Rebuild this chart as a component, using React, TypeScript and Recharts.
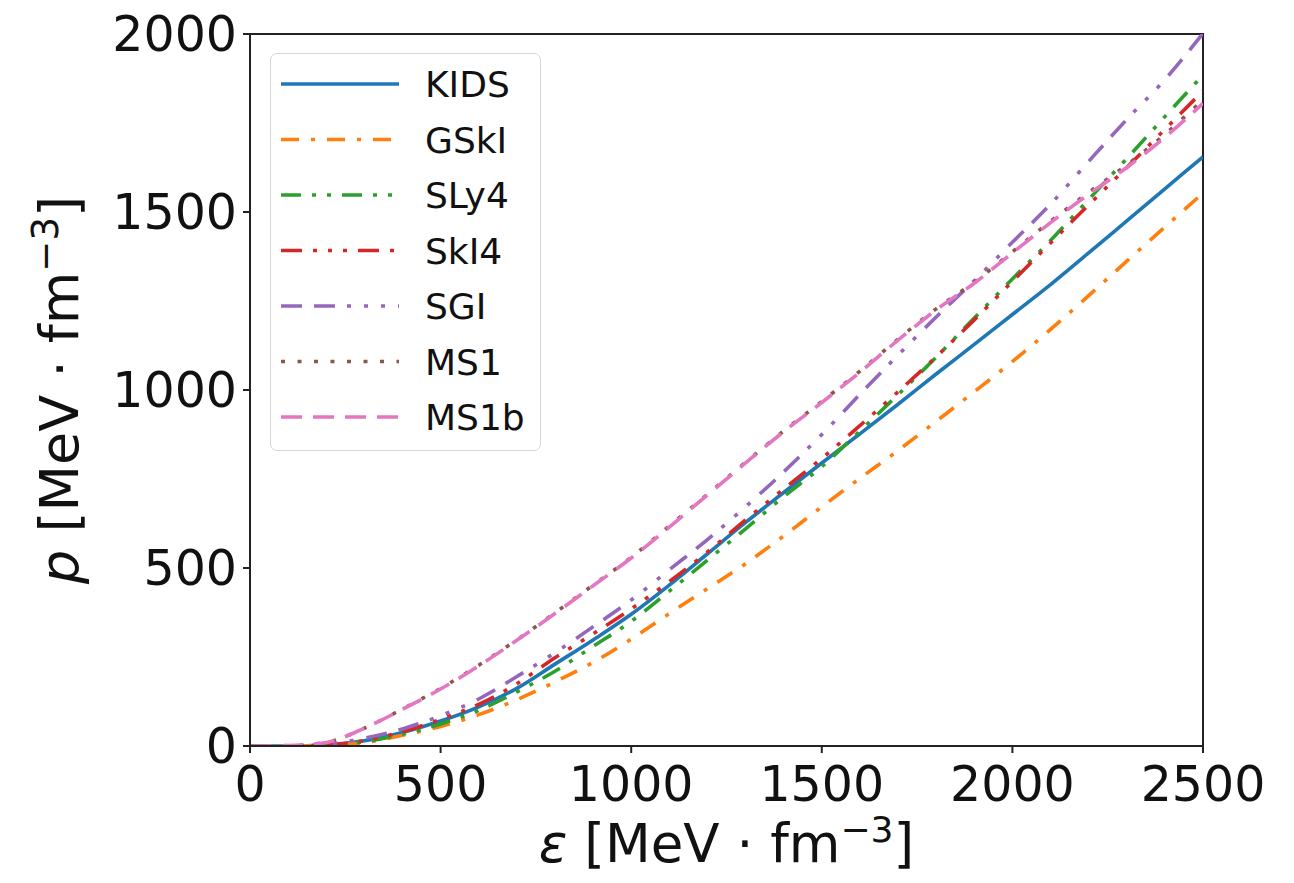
import React from 'react';
import { LineChart, Line, XAxis, YAxis, Legend, Label, ReferenceArea } from 'recharts';

const energy = [0, 100, 200, 300, 400, 500, 600, 700, 800, 900, 1000, 1100, 1200, 1300, 1400, 1500, 1600, 1700, 1800, 1900, 2000, 2100, 2200, 2300, 2400, 2500];

const kids = [0, 0, 3, 15, 38, 70, 110, 162, 230, 298, 370, 452, 540, 628, 712, 795, 877, 960, 1045, 1128, 1212, 1296, 1385, 1475, 1565, 1655];
const gski = [0, 0, 2, 10, 30, 55, 88, 130, 180, 235, 300, 372, 442, 512, 590, 672, 752, 830, 912, 995, 1080, 1170, 1265, 1362, 1458, 1553];
const sly4 = [0, 0, 2, 12, 33, 62, 100, 152, 210, 280, 350, 435, 522, 610, 700, 785, 885, 987, 1092, 1202, 1312, 1420, 1535, 1650, 1768, 1885];
const ski4 = [0, 0, 3, 15, 40, 75, 117, 175, 248, 315, 385, 462, 545, 635, 722, 808, 900, 995, 1093, 1197, 1305, 1413, 1520, 1625, 1732, 1840];
const sgi = [0, 0, 5, 22, 48, 85, 132, 195, 262, 335, 410, 495, 580, 672, 770, 875, 988, 1098, 1205, 1307, 1415, 1522, 1642, 1760, 1872, 2002];
const ms1 = [0, 1, 10, 50, 104, 162, 227, 298, 374, 452, 530, 618, 707, 797, 885, 968, 1053, 1143, 1228, 1303, 1388, 1474, 1555, 1632, 1718, 1815];
const ms1b = [0, 1, 10, 50, 103, 160, 225, 297, 372, 450, 528, 615, 705, 795, 883, 965, 1050, 1140, 1225, 1300, 1385, 1470, 1550, 1625, 1710, 1805];

const xTicks = [0, 500, 1000, 1500, 2000, 2500];
const yTicks = [0, 500, 1000, 1500, 2000];

const seriesNames = ['KIDS', 'GSkI', 'SLy4', 'SkI4', 'SGI', 'MS1', 'MS1b'];
const seriesValues = [kids, gski, sly4, ski4, sgi, ms1, ms1b];
const seriesColors = ['#1f77b4', '#ff7f0e', '#2ca02c', '#d62728', '#9467bd', '#8c564b', '#e377c2'];
const seriesDash = [
  undefined,
  '18 12 4 12',
  '20 11 4 11 4 11',
  '21 11 4 11 4 11 4 11',
  '21 12 21 12 4 13 4 13 4 13',
  '4 12.5',
  '21 11',
];

const data = energy.map((e, i) => {
  const row: Record<string, number> = { e };
  seriesNames.forEach((n, k) => {
    row[n] = seriesValues[k][i];
  });
  return row;
});

const FONT = '"DejaVu Sans", sans-serif';
const LW = 3.6;

const XLabel = (props: any) => {
  const vb = props.viewBox || {};
  const cx = vb.x + vb.width / 2;
  const y = vb.y + vb.height - 13;
  return (
    <text x={cx} y={y} textAnchor="middle" fontSize={53} fontFamily={FONT} fill="#111">
      <tspan fontStyle="italic">ε</tspan>
      <tspan> [MeV · fm</tspan>
      <tspan dy={-20} fontSize={36}>−3</tspan>
      <tspan dy={20}>]</tspan>
    </text>
  );
};

const YLabel = (props: any) => {
  const vb = props.viewBox || {};
  const cy = vb.y + vb.height / 2;
  const x = 70;
  return (
    <text
      x={x}
      y={cy}
      transform={`rotate(-90, ${x}, ${cy})`}
      textAnchor="middle"
      fontSize={54}
      fontFamily={FONT}
      fill="#111"
    >
      <tspan fontStyle="italic">p</tspan>
      <tspan> [MeV · fm</tspan>
      <tspan dy={-20} fontSize={37}>−3</tspan>
      <tspan dy={20}>]</tspan>
    </text>
  );
};

const LegendBox = () => {
  const rowH = 55.5;
  return (
    <div
      style={{
        width: 271,
        height: 398,
        border: '1.5px solid #d6d6d6',
        borderRadius: 7,
        background: 'rgba(255,255,255,0.85)',
        boxSizing: 'border-box',
      }}
    >
      <svg width={268} height={395}>
        {seriesNames.map((n, i) => {
          const cy = 30 + i * rowH;
          return (
            <g key={n}>
              <line
                x1={10}
                x2={128}
                y1={cy}
                y2={cy}
                stroke={seriesColors[i]}
                strokeWidth={LW}
                strokeDasharray={seriesDash[i]}
              />
              <text x={154} y={cy + 13} fontSize={36} fontFamily={FONT} fill="#111">
                {n}
              </text>
            </g>
          );
        })}
      </svg>
    </div>
  );
};

export default function App() {
  return (
    <div style={{ width: 1278, height: 867, background: '#fff' }}>
      <LineChart
        width={1278}
        height={867}
        data={data}
        margin={{ top: 26, right: 83, bottom: 0, left: 0 }}
      >
        <XAxis
          dataKey="e"
          type="number"
          domain={[0, 2500]}
          ticks={xTicks}
          allowDataOverflow
          height={129}
          tickSize={7}
          tickMargin={13}
          axisLine={{ stroke: '#222', strokeWidth: 2 }}
          tickLine={{ stroke: '#222', strokeWidth: 2 }}
          tick={{ fontSize: 49, fontFamily: FONT, fill: '#111' }}
          interval={0}
        >
          <Label content={XLabel} />
        </XAxis>
        <YAxis
          type="number"
          domain={[0, 2000]}
          ticks={yTicks}
          allowDataOverflow
          width={242}
          tickSize={7}
          tickMargin={6}
          axisLine={{ stroke: '#222', strokeWidth: 2 }}
          tickLine={{ stroke: '#222', strokeWidth: 2 }}
          tick={{ fontSize: 49, fontFamily: FONT, fill: '#111' }}
          interval={0}
        >
          <Label content={YLabel} />
        </YAxis>
        {seriesNames.map((n, i) => (
          <Line
            key={n}
            dataKey={n}
            name={n}
            type="monotone"
            stroke={seriesColors[i]}
            strokeWidth={LW}
            strokeDasharray={seriesDash[i]}
            dot={false}
            activeDot={false}
            isAnimationActive={false}
          />
        ))}
        <ReferenceArea
          x1={0}
          x2={2500}
          y1={0}
          y2={2000}
          fill="none"
          fillOpacity={0}
          stroke="#222"
          strokeWidth={2}
          ifOverflow="visible"
        />
        <Legend
          layout="vertical"
          align="center"
          verticalAlign="middle"
          content={LegendBox}
          wrapperStyle={{ left: 262, top: 45, right: 'auto', bottom: 'auto', width: 271, height: 398 }}
        />
      </LineChart>
    </div>
  );
}
